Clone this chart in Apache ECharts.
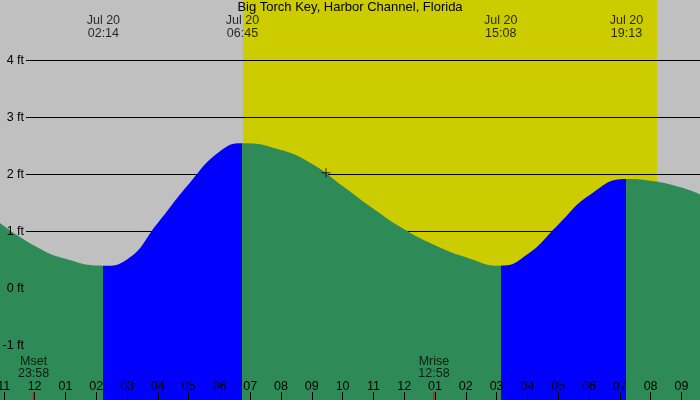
<!DOCTYPE html>
<html>
<head>
<meta charset="utf-8">
<script src="https://cdn.jsdelivr.net/npm/echarts@6/dist/echarts.min.js"></script>
<style>
  html, body { margin: 0; padding: 0; background: #c0c0c0; }
  #chart { width: 700px; height: 400px; }
</style>
</head>
<body>
<div id="chart"></div>
<script>
// tide chart, hours are relative to midnight Jul 20
const stationName = 'Big Torch Key, Harbor Channel, Florida';

const tideHours = [-1.123, 0, 1, 2.233, 3, 4, 5, 6, 6.75, 8, 9, 10, 11, 12, 13, 14, 15.133, 16, 17, 18, 19.217, 20, 21, 21.604];
const tideFeet  = [1.15, 0.75, 0.52, 0.40, 0.51, 1.15, 1.83, 2.40, 2.55, 2.43, 2.19, 1.80, 1.40, 1.04, 0.76, 0.55, 0.40, 0.60, 1.12, 1.63, 1.92, 1.89, 1.77, 1.65];

const extremeHours = [2.233, 6.75, 15.133, 19.217];
const extremeDates = ['Jul 20', 'Jul 20', 'Jul 20', 'Jul 20'];
const extremeTimes = ['02:14', '06:45', '15:08', '19:13'];

// rising tide (low -> high) drawn in blue
const risingFrom = [2.233, 15.133];
const risingTo = [6.75, 19.217];

const hourTicks = [-1, 0, 1, 2, 3, 4, 5, 6, 7, 8, 9, 10, 11, 12, 13, 14, 15, 16, 17, 18, 19, 20, 21];
const hourLabels = ['11', '12', '01', '02', '03', '04', '05', '06', '07', '08', '09', '10', '11', '12', '01', '02', '03', '04', '05', '06', '07', '08', '09'];
const feetTicks = [-1, 0, 1, 2, 3, 4];

const sunrise = 6.766;
const sunset = 20.21;

const moonHours = [-0.033, 12.967];
const moonNames = ['Mset', 'Mrise'];
const moonTimes = ['23:58', '12:58'];

const nowHour = 9.46;
const nowFeet = 2.03;

const XMIN = -1.123, XMAX = 21.604;
const YMIN = -1.956, YMAX = 5.061;
const LINE_START = -0.28; // grid lines begin right of the ft labels

const FONT = 'Liberation Sans, Arial, sans-serif';
const FS = 12.5;
const GREEN = '#2e8b57';
const BLUE = '#0000ff';

const tidePoints = tideHours.map((h, i) => [h, tideFeet[i]]);

// colour pieces along time: green while falling, blue while rising
const pieces = [];
let last = XMIN - 1;
risingFrom.forEach((from, k) => {
  pieces.push({ gte: last, lt: from, color: GREEN });
  pieces.push({ gte: from, lt: risingTo[k], color: BLUE });
  last = risingTo[k];
});
pieces.push({ gte: last, lte: XMAX + 1, color: GREEN });

const myChart = echarts.init(document.getElementById('chart'), null, { renderer: 'canvas' });

const option = {
  animation: false,
  backgroundColor: '#c0c0c0',
  title: {
    text: stationName,
    left: 'center',
    top: 0,
    padding: 0,
    textStyle: { fontFamily: FONT, fontSize: 13, fontWeight: 'normal', color: '#000', lineHeight: 15 },
  },
  grid: { left: 0, right: 0, top: 0, bottom: 0, outerBoundsMode: 'none' },
  visualMap: {
    type: 'piecewise',
    show: false,
    seriesIndex: 0,
    dimension: 0,
    pieces: pieces,
  },
  xAxis: {
    type: 'value',
    z: 10,
    min: XMIN,
    max: XMAX,
    axisLine: { show: false, onZero: false },
    splitLine: { show: false },
    axisTick: { show: true, customValues: hourTicks, inside: true, length: 8, lineStyle: { color: '#000', width: 1 } },
    axisLabel: {
      customValues: hourTicks,
      inside: true,
      margin: 7,
      color: '#000',
      fontFamily: FONT,
      fontSize: FS,
      formatter: v => hourLabels[hourTicks.indexOf(Math.round(v))],
    },
  },
  yAxis: {
    type: 'value',
    z: 10,
    min: YMIN,
    max: YMAX,
    axisLine: { show: false, onZero: false },
    axisTick: { show: false },
    splitLine: { show: false },
    axisLabel: {
      customValues: feetTicks,
      inside: true,
      margin: 24,
      align: 'right',
      color: '#000',
      fontFamily: FONT,
      fontSize: FS,
      formatter: v => v + ' ft',
    },
  },
  series: [
    {
      name: 'tide',
      type: 'line',
      data: tidePoints,
      z: 2,
      smooth: 0.5,
      showSymbol: false,
      silent: true,
      lineStyle: { width: 0, opacity: 0 },
      areaStyle: { opacity: 1, origin: 'start' },
      markArea: {
        z: 0,
        silent: true,
        itemStyle: { color: '#cccc00', opacity: 1 },
        data: [[{ xAxis: sunrise }, { xAxis: sunset }]],
      },
      markLine: {
        z: 1,
        silent: true,
        symbol: 'none',
        animation: false,
        label: { show: false },
        lineStyle: { color: '#000', width: 1, type: 'solid' },
        data: feetTicks.map(f => [{ coord: [LINE_START, f] }, { coord: [XMAX, f] }]),
      },
    },
    {
      name: 'extremes',
      type: 'scatter',
      z: 4,
      clip: false,
      silent: true,
      symbolSize: 0,
      data: extremeHours.map(h => [h, YMAX]),
      label: {
        show: true,
        position: 'bottom',
        distance: 14,
        color: '#000',
        fontFamily: FONT,
        fontSize: FS,
        lineHeight: 13,
        align: 'center',
        formatter: p => extremeDates[p.dataIndex] + '\n' + extremeTimes[p.dataIndex],
      },
    },
    {
      name: 'moon',
      type: 'scatter',
      z: 11,
      clip: false,
      silent: true,
      symbol: 'rect',
      symbolSize: [1.5, 8],
      symbolOffset: [0, -4],
      itemStyle: { color: '#ff0000' },
      data: moonHours.map(h => [h, YMIN]),
      label: {
        show: true,
        position: 'top',
        distance: 12,
        color: '#000',
        fontFamily: FONT,
        fontSize: FS,
        lineHeight: 12,
        align: 'center',
        formatter: p => moonNames[p.dataIndex] + '\n' + moonTimes[p.dataIndex],
      },
    },
    {
      name: 'now',
      type: 'scatter',
      z: 4,
      silent: true,
      symbol: 'path://M0,4.5H9M4.5,0V9',
      symbolSize: 9,
      itemStyle: { color: 'none', borderColor: '#000', borderWidth: 1 },
      data: [[nowHour, nowFeet]],
    },
  ],
};

myChart.setOption(option);
</script>
</body>
</html>
